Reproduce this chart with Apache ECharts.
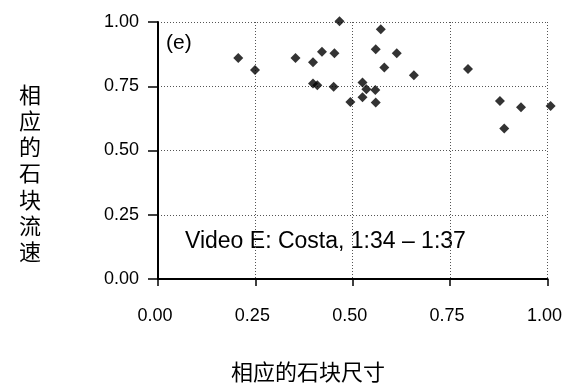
<!DOCTYPE html>
<html>
<head>
<meta charset="utf-8">
<script src="https://cdn.jsdelivr.net/npm/echarts@6/dist/echarts.min.js"></script>
<style>
  html, body { margin: 0; padding: 0; background: #fff; }
  #chart { width: 565px; height: 390px; }
</style>
</head>
<body>
<div id="chart"></div>
<script>
// Relative block size (x) against relative block velocity (y)
const blockSize = [
  0.206, 0.249, 0.353, 0.398, 0.421, 0.453, 0.466, 0.398, 0.409, 0.451,
  0.494, 0.525, 0.535, 0.525, 0.572, 0.559, 0.613, 0.581, 0.657, 0.558,
  0.559, 0.796, 0.878, 0.932, 1.008, 0.889
];
const blockVelocity = [
  0.860, 0.813, 0.860, 0.843, 0.884, 0.878, 1.003, 0.761, 0.754, 0.748,
  0.689, 0.765, 0.738, 0.707, 0.972, 0.894, 0.878, 0.823, 0.793, 0.735,
  0.687, 0.817, 0.693, 0.668, 0.673, 0.586
];
const axisTicks = [0, 0.25, 0.5, 0.75, 1.0];

const xTitle = '相应的石块尺寸';
const yTitle = '相应的石块流速';
const panelLabel = '(e)';
const noteText = 'Video E: Costa, 1:34 \u2013 1:37';

const points = blockSize.map((x, i) => [x, blockVelocity[i]]);

const latin = '"Liberation Sans", Arial, sans-serif';
const cjk = '"Noto Sans CJK SC", sans-serif';

const gridLine = { show: true, lineStyle: { color: '#555', width: 1, type: [1, 2] } };

const chart = echarts.init(document.getElementById('chart'), null, { renderer: 'canvas' });
chart.setOption({
  animation: false,
  backgroundColor: '#fff',
  grid: { left: 158, right: 16, top: 22, bottom: 111, containLabel: false },
  xAxis: {
    type: 'value',
    min: axisTicks[0],
    max: axisTicks[axisTicks.length - 1],
    interval: axisTicks[1] - axisTicks[0],
    axisLine: { show: true, onZero: false, lineStyle: { color: '#000', width: 2 } },
    axisTick: { show: true, inside: false, length: 7, lineStyle: { color: '#000', width: 1.5 } },
    axisLabel: {
      margin: 28,
      padding: [0, 6, 0, 0],
      color: '#000',
      fontFamily: latin,
      fontSize: 18,
      formatter: v => v.toFixed(2)
    },
    splitLine: gridLine
  },
  yAxis: {
    type: 'value',
    min: axisTicks[0],
    max: axisTicks[axisTicks.length - 1],
    interval: axisTicks[1] - axisTicks[0],
    axisLine: { show: true, onZero: false, lineStyle: { color: '#000', width: 2 } },
    axisTick: { show: true, inside: false, length: 10, lineStyle: { color: '#000', width: 1.5 } },
    axisLabel: {
      margin: 19,
      color: '#000',
      fontFamily: latin,
      fontSize: 18,
      formatter: v => v.toFixed(2)
    },
    splitLine: gridLine
  },
  series: [{
    type: 'scatter',
    data: points,
    symbol: 'diamond',
    symbolSize: 10,
    itemStyle: { color: '#000' },
    clip: false
  }],
  graphic: [
    {
      type: 'text',
      left: 166, top: 33,
      style: { text: panelLabel, font: '21px ' + latin, fill: '#000' }
    },
    {
      type: 'text',
      left: 185, top: 230,
      style: { text: noteText, font: '23px ' + latin, fill: '#000' }
    },
    {
      type: 'text',
      left: 231, top: 361,
      style: { text: xTitle, font: '22px ' + cjk, fill: '#000' }
    },
    {
      type: 'text',
      left: 19, top: 81,
      style: { text: yTitle.split('').join('\n'), font: '22px ' + cjk, lineHeight: 26.3, fill: '#000' }
    }
  ]
});
</script>
</body>
</html>
